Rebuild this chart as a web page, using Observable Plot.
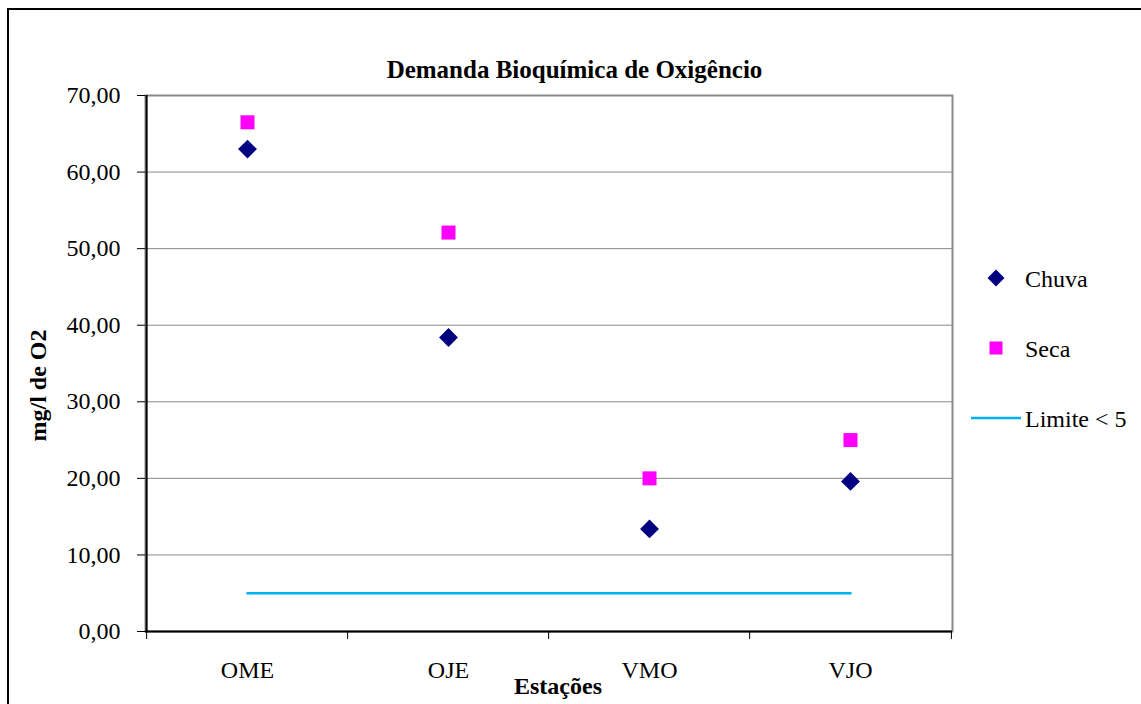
<!DOCTYPE html>
<html><head><meta charset="utf-8">
<script src="https://cdn.jsdelivr.net/npm/d3@7"></script>
<script src="https://cdn.jsdelivr.net/npm/@observablehq/plot@0.6"></script>
<style>
html,body{margin:0;padding:0;background:#fff;overflow:hidden;}
#wrap{position:relative;width:1141px;height:704px;font-family:"Liberation Serif","Times New Roman",serif;color:#000;}
#border{position:absolute;left:7px;top:8px;width:1170px;height:730px;border:2.5px solid #000;box-sizing:border-box;pointer-events:none;}
#chart{position:absolute;left:0;top:0;}
#title{position:absolute;left:0;width:1149px;top:57px;text-align:center;font-weight:bold;font-size:25px;line-height:25px;white-space:nowrap;}
.leg{position:absolute;font-size:24px;line-height:24px;white-space:nowrap;}
.sym{position:absolute;}
</style>
</head><body>
<div id="wrap">
  <div id="chart"></div>
  <div id="title">Demanda Bioquímica de Oxigêncio</div>
  <div id="legend"></div>
  <div id="border"></div>
</div>
<script>
// ---- data ----
const stations = ["OME", "OJE", "VMO", "VJO"];
const chuva = [63.0, 38.4, 13.4, 19.6];
const seca = [66.5, 52.1, 20.0, 25.0];
const limite = [5, 5, 5, 5];
const yTicks = [0, 10, 20, 30, 40, 50, 60, 70];
const seriesNames = ["Chuva", "Seca", "Limite < 5"];
const colors = {Chuva: "#000080", Seca: "#ff00ff", Limite: "#00b0f0"};

// ---- layout ----
const W = 1141, H = 704, mL = 145, mR = 189, mT = 95, mB = 73;
const step = (W - mL - mR) / stations.length;
const plotH = H - mT - mB;

const chuvaData = stations.map((s, i) => ({station: s, value: chuva[i]}));
const secaData = stations.map((s, i) => ({station: s, value: seca[i]}));
const limData = stations.map((s, i) => ({station: s, value: limite[i]}));

const chart = Plot.plot({
  width: W, height: H,
  marginLeft: mL, marginRight: mR, marginTop: mT, marginBottom: mB,
  style: {fontFamily: "'Liberation Serif','Times New Roman',serif", fontSize: "24px", color: "#000", background: "transparent", overflow: "visible"},
  x: {type: "point", domain: stations, padding: 0.5},
  y: {domain: [0, 70]},
  marks: [
    Plot.gridY(yTicks, {stroke: "#888", strokeOpacity: 1, strokeWidth: 1}),
    Plot.frame({stroke: "#888", strokeWidth: 2}),
    Plot.ruleY([0], {stroke: "#000", strokeWidth: 2}),
    Plot.ruleX(stations.slice(0, 1), {x: d => d, dx: -step / 2, stroke: "#000", strokeWidth: 2}),
    Plot.ruleX(stations, {x: d => d, dx: -step / 2, insetTop: plotH, insetBottom: -8, stroke: "#000", strokeWidth: 1}),
    Plot.ruleX(stations.slice(-1), {x: d => d, dx: step / 2, insetTop: plotH, insetBottom: -8, stroke: "#000", strokeWidth: 1}),
    Plot.axisY({ticks: yTicks, tickSize: 8, tickPadding: 17, tickFormat: d => d.toFixed(2).replace(".", ","), label: null, fontSize: 24, stroke: "#000"}),
    Plot.axisX({tickSize: 0, tickPadding: 29, label: null, fontSize: 24}),
    Plot.line(limData, {x: "station", y: "value", stroke: colors.Limite, strokeWidth: 2.5}),
    Plot.dot(secaData, {x: "station", y: "value", symbol: "square", r: 7.9, fill: colors.Seca}),
    Plot.dot(chuvaData, {x: "station", y: "value", symbol: "diamond2", r: 8.5, fill: colors.Chuva}),
    Plot.text(["Estações"], {frameAnchor: "bottom", dx: 9, dy: 62, lineAnchor: "bottom", fontWeight: "bold", fontSize: 24}),
    Plot.text(["mg/l de O2"], {frameAnchor: "left", dx: -107, dy: 22, rotate: -90, textAnchor: "middle", lineAnchor: "middle", fontWeight: "bold", fontSize: 24})
  ]
});
document.getElementById("chart").appendChild(chart);

// ---- legend ----
const legend = document.getElementById("legend");
const items = [
  {name: seriesNames[0], cy: 278, textTop: 267, kind: "diamond", color: colors.Chuva},
  {name: seriesNames[1], cy: 348, textTop: 337, kind: "square", color: colors.Seca},
  {name: seriesNames[2], cy: 418, textTop: 407, kind: "line", color: colors.Limite}
];
for (const it of items) {
  const svgNS = "http://www.w3.org/2000/svg";
  const s = document.createElementNS(svgNS, "svg");
  s.setAttribute("class", "sym");
  s.setAttribute("width", 60); s.setAttribute("height", 24);
  s.style.left = "966px"; s.style.top = (it.cy - 12) + "px";
  let el;
  if (it.kind === "diamond") {
    el = document.createElementNS(svgNS, "path");
    el.setAttribute("d", "M30,3.5L38.5,12L30,20.5L21.5,12Z");
    el.setAttribute("fill", it.color);
  } else if (it.kind === "square") {
    el = document.createElementNS(svgNS, "rect");
    el.setAttribute("x", 23.5); el.setAttribute("y", 5.5); el.setAttribute("width", 13); el.setAttribute("height", 13);
    el.setAttribute("fill", it.color);
  } else {
    el = document.createElementNS(svgNS, "line");
    el.setAttribute("x1", 5); el.setAttribute("x2", 55); el.setAttribute("y1", 12); el.setAttribute("y2", 12);
    el.setAttribute("stroke", it.color); el.setAttribute("stroke-width", 2.5);
  }
  s.appendChild(el);
  legend.appendChild(s);
  const t = document.createElement("div");
  t.className = "leg";
  t.style.left = "1025px"; t.style.top = it.textTop + "px";
  t.textContent = it.name;
  legend.appendChild(t);
}
</script>
</body></html>
